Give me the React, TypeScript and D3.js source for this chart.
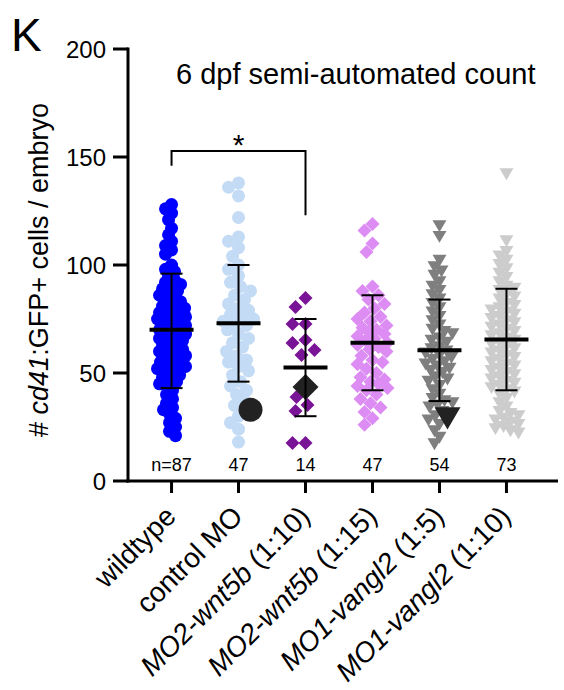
import React from 'react';
import * as d3 from 'd3';

// groups, left to right
const categories = ['wildtype', 'control MO', 'MO2-wnt5b (1:10)', 'MO2-wnt5b (1:15)', 'MO1-vangl2 (1:5)', 'MO1-vangl2 (1:10)'];
const labelItalic = ['', '', 'MO2-wnt5b', 'MO2-wnt5b', 'MO1-vangl2', 'MO1-vangl2'];
const labelPlain = ['wildtype', 'control MO', ' (1:10)', ' (1:15)', ' (1:5)', ' (1:10)'];
const nLabels = ['n=87', '47', '14', '47', '54', '73'];

const wildtype = [128, 126, 124, 121, 117, 114, 111, 109, 107, 105, 100, 98, 97, 95, 93, 91, 90, 89, 87, 86, 85, 84, 82, 81, 80, 79, 78, 77, 76, 75, 75, 74, 73, 72, 71, 70, 70, 69, 68, 67, 66, 65, 64, 63, 62, 61, 60, 59, 58, 57, 56, 55, 54, 53, 52, 51, 50, 49, 48, 47, 46, 45, 44, 42, 40, 38, 36, 34, 33, 31, 29, 27, 25, 23, 21, 76, 74, 72, 78, 80, 83, 88, 92, 55, 53, 60, 66];
const controlMO = [138, 136, 132, 122, 113, 111, 108, 104, 100, 98, 95, 92, 90, 88, 86, 84, 82, 80, 79, 77, 76, 75, 74, 73, 72, 70, 68, 66, 64, 62, 60, 58, 56, 55, 53, 51, 49, 46, 44, 42, 40, 37, 35, 30, 27, 24, 18];
const wnt5b10 = [84.7, 80.6, 72.7, 72.7, 65.3, 63.9, 58.3, 60.6, 38.9, 35.2, 32.4, 17.6, 17.6];
const wnt5b15 = [119, 116, 110, 106, 90, 88, 86, 84, 82, 80, 78, 76, 75, 74, 72, 71, 70, 69, 68, 67, 66, 65, 64, 63, 62, 61, 60, 58, 56, 55, 54, 52, 50, 48, 47, 46, 45, 44, 43, 42, 40, 38, 36, 34, 32, 29, 26];
const vangl5 = [118, 113, 102, 99, 97, 95, 92, 90, 88, 86, 84, 82, 80, 78, 76, 74, 72, 70, 69, 68, 66, 65, 64, 62, 61, 60, 59, 58, 57, 56, 55, 54, 53, 52, 51, 50, 48, 47, 46, 44, 42, 40, 38, 37, 36, 35, 34, 32, 30, 28, 26, 23, 20, 17];
const vangl10 = [142, 111, 106, 104, 102, 100, 98, 96, 94, 92, 90, 89, 88, 86, 85, 84, 82, 81, 80, 79, 78, 77, 76, 75, 74, 73, 72, 71, 70, 69, 68, 67, 66, 65, 64, 63, 62, 61, 60, 59, 58, 57, 56, 55, 54, 53, 52, 51, 50, 49, 48, 47, 46, 45, 44, 43, 42, 41, 40, 38, 36, 34, 32, 31, 30, 29, 28, 27, 26, 25, 24, 23, 22];
const groupValues = [wildtype, controlMO, wnt5b10, wnt5b15, vangl5, vangl10];

// representative embryos shown as big black markers
const highlight = [null, 33, 43.5, null, 29, null];

// mean and SD
const means = [70, 73, 52.5, 64, 60.5, 65.5];
const sdLow = [43, 46, 30, 42, 37, 42];
const sdHigh = [96, 100, 75, 86, 84, 89];

const colors = ['#0000ff', '#c4dbf5', '#7a1497', '#dc8cf2', '#7f7f7f', '#cccccc'];
const shapes = ['circle', 'circle', 'diamond', 'diamond', 'triangle', 'triangle'];
const yTicks = [0, 50, 100, 150, 200];

const W = 564;
const H = 690;

const y = d3.scaleLinear().domain([0, 200]).range([481, 49]);
const x = d3.scalePoint<string>().domain(categories).range([128, 550]).padding(0.65);

function swarm(vals: number[], minDist: number, maxOff: number) {
  const order = vals.map((v, i) => i).sort((a, b) => vals[b] - vals[a]);
  const placed: { px: number; py: number }[] = [];
  const off: number[] = new Array(vals.length).fill(0);
  order.forEach((i) => {
    const py = y(vals[i]);
    let best = 0;
    let bestScore = -1;
    for (let k = 0; k <= maxOff * 2; k++) {
      const dx = k % 2 === 0 ? k / 2 : -(k + 1) / 2;
      let dmin = Infinity;
      placed.forEach((p) => {
        const d = Math.hypot(p.px - dx, p.py - py);
        if (d < dmin) dmin = d;
      });
      if (dmin >= minDist) {
        best = dx;
        bestScore = Infinity;
        break;
      }
      if (dmin > bestScore) {
        bestScore = dmin;
        best = dx;
      }
    }
    off[i] = best;
    placed.push({ px: best, py });
  });
  return off;
}

const minDists = [7, 10, 13, 10, 8, 7.5];
const maxOffs = [14, 15, 17, 15, 14, 15];

function marker(shape: string, cx: number, cy: number, s: number, fill: string, key: string) {
  if (shape === 'circle') return <circle key={key} cx={cx} cy={cy} r={s} fill={fill} />;
  if (shape === 'diamond') {
    const p = [[cx, cy - s], [cx + s, cy], [cx, cy + s], [cx - s, cy]];
    return <path key={key} d={d3.line()(p as [number, number][]) + 'Z'} fill={fill} />;
  }
  const h = s * 1.7;
  const p = [[cx - s, cy - h / 2], [cx + s, cy - h / 2], [cx, cy + h / 2]];
  return <path key={key} d={d3.line()(p as [number, number][]) + 'Z'} fill={fill} />;
}

const sizes = [6.5, 6.5, 7, 7, 7, 7];
const bigSizes = [12, 12, 13, 13, 13, 13];

export default function App() {
  const font = 'Liberation Sans, Arial, Helvetica, sans-serif';
  return (
    <svg width={W} height={H} style={{ position: 'absolute', left: 0, top: 0 }} fontFamily={font}>
      <rect width={W} height={H} fill="#fff" />
      <text x={11} y={51} fontSize={46}>K</text>
      <text x={176} y={84} fontSize={29}>6 dpf semi-automated count</text>

      {/* points */}
      {groupValues.map((vals, g) => {
        const cx0 = x(categories[g]) as number;
        const all = highlight[g] != null ? [...vals, highlight[g] as number] : vals;
        const off = swarm(all, minDists[g], maxOffs[g]);
        return (
          <g key={g}>
            {vals.map((v, i) => marker(shapes[g], cx0 + off[i], y(v), sizes[g], colors[g], `p${g}-${i}`))}
            {highlight[g] != null &&
              marker(shapes[g], cx0 + off[vals.length], y(highlight[g] as number), bigSizes[g], '#222', `h${g}`)}
          </g>
        );
      })}

      {/* mean and SD */}
      {categories.map((c, g) => {
        const cx0 = x(c) as number;
        return (
          <g key={c} stroke="#000">
            <line x1={cx0} x2={cx0} y1={y(sdLow[g])} y2={y(sdHigh[g])} strokeWidth={2} />
            <line x1={cx0 - 11} x2={cx0 + 11} y1={y(sdLow[g])} y2={y(sdLow[g])} strokeWidth={2} />
            <line x1={cx0 - 11} x2={cx0 + 11} y1={y(sdHigh[g])} y2={y(sdHigh[g])} strokeWidth={2} />
            <line x1={cx0 - 22} x2={cx0 + 22} y1={y(means[g])} y2={y(means[g])} strokeWidth={4} />
          </g>
        );
      })}

      {/* significance bracket */}
      <path
        d={`M${x(categories[0])},${y(146)}V${y(152.8)}H${x(categories[2])}V${y(123)}`}
        fill="none"
        stroke="#000"
        strokeWidth={2}
      />
      <text x={((x(categories[0]) as number) + (x(categories[2]) as number)) / 2} y={155} fontSize={30} textAnchor="middle">*</text>

      {/* n labels */}
      {categories.map((c, g) => (
        <text key={c} x={x(c)} y={471} fontSize={18} textAnchor="middle">{nLabels[g]}</text>
      ))}

      {/* y axis */}
      <line x1={128} x2={128} y1={y(200) - 1.5} y2={y(0) + 1.5} stroke="#000" strokeWidth={3} />
      {yTicks.map((t) => (
        <g key={t}>
          <line x1={113} x2={128} y1={y(t)} y2={y(t)} stroke="#000" strokeWidth={3} />
          <text x={106} y={y(t)} dy="0.36em" fontSize={24} textAnchor="end">{t}</text>
        </g>
      ))}
      <text transform="translate(48,270) rotate(-90)" fontSize={27} textAnchor="middle">
        # <tspan fontStyle="italic">cd41</tspan>:GFP+ cells / embryo
      </text>

      {/* x axis */}
      <line x1={126.5} x2={558} y1={y(0)} y2={y(0)} stroke="#000" strokeWidth={3} />
      {categories.map((c, g) => (
        <g key={c}>
          <line x1={x(c)} x2={x(c)} y1={y(0)} y2={y(0) + 12} stroke="#000" strokeWidth={3} />
          <text transform={`translate(${(x(c) as number) + 6},518) rotate(-45)`} fontSize={28} textAnchor="end">
            {labelItalic[g] && <tspan fontStyle="italic">{labelItalic[g]}</tspan>}
            {labelPlain[g]}
          </text>
        </g>
      ))}
    </svg>
  );
}
